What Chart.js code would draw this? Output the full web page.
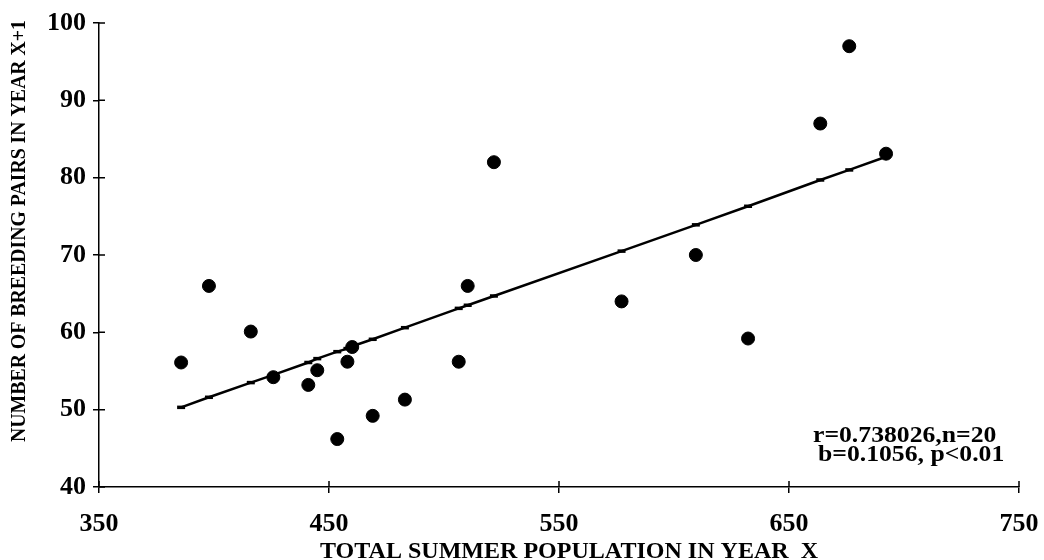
<!DOCTYPE html>
<html><head><meta charset="utf-8">
<style>html,body{margin:0;padding:0;background:#fff;} #wrap{width:1044px;height:560px;position:relative;} canvas{display:block;}</style>
<script src="https://cdn.jsdelivr.net/npm/chart.js@4.4.1/dist/chart.umd.min.js"></script>
</head><body><div id="wrap"><canvas id="c" width="1044" height="560"></canvas></div>
<script>
const populationX = [385.7, 397.8, 416.0, 425.8, 441.0, 444.9, 453.6, 458.0, 460.1, 469.0, 483.0, 506.4, 510.3, 521.7, 577.2, 609.5, 632.2, 663.6, 676.2, 692.2];
const breedingPairsY = [56.1, 66.0, 60.1, 54.2, 53.2, 55.1, 46.2, 56.2, 58.1, 49.2, 51.3, 56.2, 66.0, 82.0, 64.0, 70.0, 59.2, 87.0, 97.0, 83.1];
const fittedY = [50.3, 51.6, 53.5, 54.5, 56.1, 56.6, 57.5, 57.9, 58.2, 59.1, 60.6, 63.1, 63.5, 64.7, 70.5, 73.9, 76.3, 79.7, 81.0, 82.7];
const xTicks = [350, 450, 550, 650, 750];
const yTicks = [40, 50, 60, 70, 80, 90, 100];
const xTitle = 'TOTAL SUMMER POPULATION IN YEAR  X';
const yTitle = 'NUMBER OF BREEDING PAIRS IN YEAR X+1';
const statLines = ['r=0.738026,n=20', 'b=0.1056, p<0.01'];

const FONT = '"Liberation Serif", "Times New Roman", serif';

function fitText(ctx, text, x, y, targetWidth) {
  const w = ctx.measureText(text).width;
  ctx.save();
  ctx.translate(x, y);
  ctx.scale(targetWidth / w, 1);
  ctx.fillText(text, 0, 0);
  ctx.restore();
}

const decor = {
  id: 'decor',
  afterDraw(chart) {
    const ctx = chart.ctx;
    const xs = chart.scales.x, ys = chart.scales.y;
    ctx.save();
    ctx.strokeStyle = '#000';
    ctx.lineWidth = 1.5;
    // inner halves of tick marks (ticks cross the axes)
    ctx.beginPath();
    xTicks.forEach(v => { const px = xs.getPixelForValue(v); ctx.moveTo(px, ys.bottom); ctx.lineTo(px, ys.bottom - 6); });
    yTicks.forEach(v => { const py = ys.getPixelForValue(v); ctx.moveTo(xs.left, py); ctx.lineTo(xs.left + 6, py); });
    ctx.stroke();
    ctx.fillStyle = '#000';
    // y title
    ctx.save();
    ctx.translate(20, 231);
    ctx.rotate(-Math.PI / 2);
    ctx.font = 'bold 21px ' + FONT;
    ctx.textAlign = 'center';
    ctx.textBaseline = 'middle';
    fitText(ctx, yTitle, 0, 0, 422);
    ctx.restore();
    // x title
    ctx.font = 'bold 23px ' + FONT;
    ctx.textAlign = 'center';
    ctx.textBaseline = 'alphabetic';
    fitText(ctx, xTitle, 569, 558, 498);
    // stats
    ctx.font = 'bold 24px ' + FONT;
    ctx.textAlign = 'left';
    const pos = [[813, 442], [818, 461]];
    statLines.forEach((t, i) => {
      ctx.save();
      ctx.translate(pos[i][0], pos[i][1]);
      ctx.scale(1.07, 1);
      ctx.fillText(t, 0, 0);
      ctx.restore();
    });
    ctx.restore();
  }
};

new Chart(document.getElementById('c'), {
  type: 'scatter',
  data: {
    datasets: [
      {
        label: 'Observed',
        data: populationX.map((x, i) => ({ x: x, y: breedingPairsY[i] })),
        backgroundColor: '#000',
        borderColor: '#000',
        pointRadius: 6.5,
        pointHoverRadius: 6.5,
        showLine: false,
        order: 1
      },
      {
        label: 'Fitted',
        type: 'line',
        data: populationX.map((x, i) => ({ x: x, y: fittedY[i] })),
        borderColor: '#000',
        backgroundColor: '#000',
        borderWidth: 2.5,
        pointStyle: 'line',
        pointRadius: 4,
        pointBorderWidth: 3.5,
        fill: false,
        tension: 0,
        order: 2
      }
    ]
  },
  options: {
    responsive: false,
    animation: false,
    layout: { padding: { left: 0, right: 25, top: 23, bottom: 0 } },
    plugins: { legend: { display: false }, tooltip: { enabled: false } },
    scales: {
      x: {
        type: 'linear', min: 350, max: 750,
        afterBuildTicks: s => { s.ticks = xTicks.map(v => ({ value: v })); },
        afterFit: s => { s.height = 73; s.paddingLeft = 0; s.paddingRight = 0; },
        grid: { display: true, drawOnChartArea: false, drawTicks: true, tickLength: 6, color: '#000', lineWidth: 1.5 },
        border: { display: true, color: '#000', width: 1.5 },
        ticks: { color: '#000', font: { family: FONT, size: 26, weight: 'bold' }, padding: 16, maxRotation: 0, autoSkip: false }
      },
      y: {
        type: 'linear', min: 40, max: 100,
        afterBuildTicks: s => { s.ticks = yTicks.map(v => ({ value: v })); },
        afterFit: s => { s.width = 99; s.paddingTop = 0; s.paddingBottom = 0; },
        grid: { display: true, drawOnChartArea: false, drawTicks: true, tickLength: 6, color: '#000', lineWidth: 1.5 },
        border: { display: true, color: '#000', width: 1.5 },
        ticks: { color: '#000', font: { family: FONT, size: 26, weight: 'bold' }, padding: 7, autoSkip: false }
      }
    }
  },
  plugins: [decor]
});
</script>
</body></html>
